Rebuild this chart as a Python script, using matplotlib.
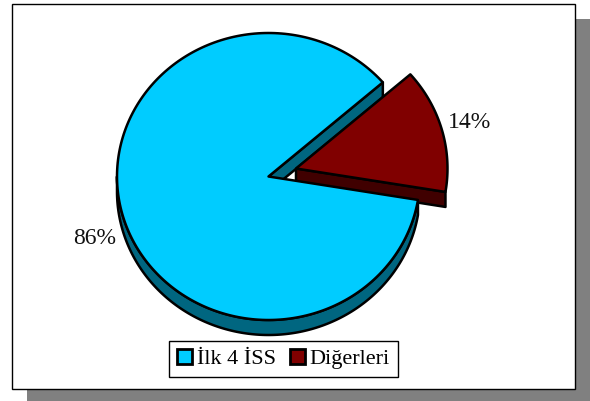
import numpy as np
import matplotlib
matplotlib.use("Agg")
import matplotlib.pyplot as plt
from matplotlib.patches import Polygon, Rectangle, Patch

categories = ["İlk 4 İSS", "Diğerleri"]
shares = [86, 14]
pct_labels = ["86%", "14%"]

top_colors = ["#00CCFF", "#800000"]
side_colors = ["#006680", "#400000"]

W, H = 590, 401
CX, CY, RX, RY, DEPTH = 268.5, 176.5, 151.5, 143.5, 15
EXPLODE = (27.5, -8)
START = 41.0
LW = 1.8

plt.rcParams["font.family"] = ["Liberation Serif", "DejaVu Serif"]
fig = plt.figure(figsize=(W / 100, H / 100), dpi=100)
ax = fig.add_axes([0, 0, 1, 1])
ax.set_xlim(0, W)
ax.set_ylim(H, 0)
ax.axis("off")


def rim(cx, cy, a0, a1, dy=0):
    t = np.radians(np.linspace(a0, a1, 240))
    return np.column_stack([cx + RX * np.cos(t), cy - RY * np.sin(t) + dy])


def pt(cx, cy, a, dy=0):
    return rim(cx, cy, a, a, dy)[:1]


def poly(points, color, z):
    ax.add_patch(Polygon(points, closed=True, facecolor=color, edgecolor="black",
                         linewidth=LW, joinstyle="round", zorder=z))


def side_band(cx, cy, a0, a1, color, z):
    # outer wall: only the part of the rim that faces the viewer
    top = rim(cx, cy, a0, a1)
    bottom = rim(cx, cy, a1, a0, DEPTH)
    poly(np.vstack([top, bottom]), color, z)


# frame and its drop shadow
ax.add_patch(Rectangle((27, 19), 563, 384, facecolor="#808080", edgecolor="none", zorder=0))
ax.add_patch(Rectangle((12, 4), 563, 385, facecolor="white", edgecolor="black", linewidth=1, zorder=1))

# slice angles from the values: the small slice ends at START, the big one wraps round
big_span = 360 * shares[0] / sum(shares)
small_span = 360 * shares[1] / sum(shares)
small_low = START - small_span
sx, sy = CX + EXPLODE[0], CY + EXPLODE[1]

# big slice rim wall (front half only)
side_band(CX, CY, -180, small_low, side_colors[0], 2)
# exploded slice walls
poly(np.vstack([[[sx, sy]], pt(sx, sy, small_low), pt(sx, sy, small_low, DEPTH), [[sx, sy + DEPTH]]]),
     side_colors[1], 3)
# cut wall of the big slice
poly(np.vstack([[[CX, CY]], pt(CX, CY, START), pt(CX, CY, START, DEPTH), [[CX, CY + DEPTH]]]),
     side_colors[0], 4)
# top faces
poly(np.vstack([[[CX, CY]], rim(CX, CY, START, START + big_span)]), top_colors[0], 5)
poly(np.vstack([[[sx, sy]], rim(sx, sy, small_low, START)]), top_colors[1], 6)

# percentage labels
ax.text(94.5, 238, pct_labels[0], ha="center", va="center", fontsize=17, color="#111111", zorder=7)
ax.text(470, 122, pct_labels[1], ha="center", va="center", fontsize=17, color="#111111", zorder=7)

# legend
handles = [Patch(facecolor=c, edgecolor="black", linewidth=2) for c in top_colors]
leg = ax.legend(handles, categories, loc="center", bbox_to_anchor=(283.5 / W, 1 - 359 / H),
                ncol=2, fontsize=16, frameon=True, fancybox=False, edgecolor="black",
                framealpha=1, handlelength=0.68, handleheight=0.68, handletextpad=0.22,
                columnspacing=0.62, borderpad=0.36, borderaxespad=0)
leg.get_frame().set_linewidth(1)
leg.set_zorder(8)

fig.savefig("out.png", dpi=100)
